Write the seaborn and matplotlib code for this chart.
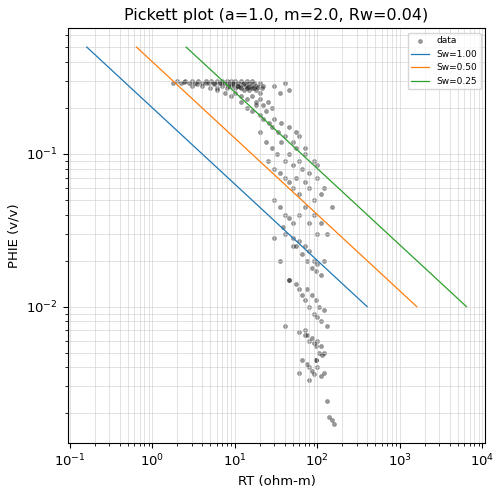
import numpy as np
import pandas as pd
import matplotlib
matplotlib.use("Agg")
import matplotlib.pyplot as plt
import seaborn as sns

# Pickett parameters
a, m, n, rw = 1.0, 2.0, 2.0, 0.04
sw_values = [1.00, 0.50, 0.25]
phi_ends = [0.01, 0.5]

# log data read approx. from the picture (RT ohm-m, PHIE v/v)
rt = [1.8, 2.0, 2.2, 2.5, 2.8, 3.0, 3.3, 3.6, 4.0, 4.4, 4.8, 5.2, 5.6, 6.0, 6.5, 7.0,
      7.5, 8.0, 8.5, 9.0, 9.5, 10, 11, 12, 13, 14, 15, 16, 17, 18, 20, 22,
      3.0, 4.0, 5.0, 6.0, 7.0, 8.0, 9.0, 10, 11, 12, 13, 14, 15, 16, 18, 20,
      2.4, 3.5, 4.5, 5.5, 6.8, 8.2, 9.6, 10.5, 11.5, 12.5, 13.5, 14.5, 15.5, 17, 19, 21,
      6.0, 7.5, 9.0, 10, 12, 14, 16, 18, 20, 22, 25, 28, 30, 35, 40, 45,
      12, 14, 16, 18, 20, 22, 24, 26, 28, 30, 33, 36, 40, 45, 50, 55, 60, 70,
      20, 24, 28, 32, 36, 40, 45, 50, 55, 60, 65, 70, 80, 90, 100,
      25, 30, 35, 40, 45, 50, 55, 60, 70, 80, 90, 100, 110, 120, 150,
      30, 35, 40, 45, 50, 60, 70, 80, 90, 100, 110, 130,
      40, 50, 55, 60, 65, 70, 75, 80, 85, 90, 95, 100, 110, 120,
      45, 55, 60, 65, 70, 75, 80, 85, 90, 95, 100, 105, 110, 120, 130,
      60, 70, 75, 80, 85, 90, 95, 100, 105, 110, 115, 120,
      65, 75, 80, 85, 90, 95, 100, 110, 120, 130, 140, 150, 160,
      40, 30, 35, 50, 60, 45, 38, 80, 70, 95]
phie = [0.29, 0.30, 0.29, 0.30, 0.29, 0.30, 0.29, 0.30, 0.29, 0.30, 0.29, 0.30, 0.29, 0.30, 0.29, 0.30,
        0.29, 0.30, 0.29, 0.30, 0.29, 0.30, 0.29, 0.30, 0.29, 0.30, 0.29, 0.30, 0.29, 0.28, 0.29, 0.28,
        0.28, 0.28, 0.27, 0.27, 0.28, 0.27, 0.28, 0.27, 0.28, 0.27, 0.26, 0.27, 0.26, 0.27, 0.26, 0.25,
        0.295, 0.285, 0.29, 0.285, 0.29, 0.28, 0.285, 0.28, 0.275, 0.285, 0.28, 0.275, 0.28, 0.27, 0.275, 0.27,
        0.26, 0.25, 0.24, 0.25, 0.24, 0.23, 0.24, 0.22, 0.23, 0.21, 0.22, 0.20, 0.28, 0.25, 0.29, 0.26,
        0.22, 0.20, 0.19, 0.21, 0.18, 0.17, 0.19, 0.16, 0.15, 0.17, 0.14, 0.16, 0.13, 0.15, 0.12, 0.14, 0.13, 0.11,
        0.14, 0.12, 0.11, 0.10, 0.12, 0.09, 0.10, 0.085, 0.11, 0.09, 0.08, 0.10, 0.075, 0.09, 0.085,
        0.09, 0.08, 0.075, 0.07, 0.065, 0.06, 0.07, 0.055, 0.065, 0.06, 0.05, 0.07, 0.055, 0.06, 0.045,
        0.05, 0.045, 0.04, 0.038, 0.035, 0.04, 0.045, 0.035, 0.04, 0.03, 0.035, 0.03,
        0.03, 0.028, 0.025, 0.027, 0.022, 0.025, 0.02, 0.023, 0.018, 0.02, 0.017, 0.019, 0.016, 0.02,
        0.015, 0.014, 0.013, 0.012, 0.011, 0.013, 0.01, 0.012, 0.009, 0.011, 0.0085, 0.01, 0.008, 0.0095, 0.0075,
        0.0068, 0.007, 0.0065, 0.006, 0.0062, 0.0058, 0.0055, 0.006, 0.005, 0.0055, 0.0048, 0.005,
        0.0045, 0.0042, 0.004, 0.0038, 0.0036, 0.0045, 0.004, 0.0035, 0.0037, 0.0024, 0.0019, 0.0018, 0.0017,
        0.0075, 0.028, 0.02, 0.025, 0.0037, 0.015, 0.033, 0.0033, 0.0065, 0.0045]

df = pd.DataFrame({"RT": rt, "PHIE": phie})

fig, ax = plt.subplots(figsize=(5.02, 4.95), dpi=100)
sns.scatterplot(data=df, x="RT", y="PHIE", ax=ax, s=9, color="black", alpha=0.4,
                edgecolor="black", linewidth=0.3, label="data")

for sw in sw_values:
    phi = np.array(phi_ends)
    rt_line = a * rw / (phi ** m * sw ** n)
    sns.lineplot(x=rt_line, y=phi, ax=ax, linewidth=0.9, label=f"Sw={sw:.2f}")

ax.set_xscale("log")
ax.set_yscale("log")
ax.grid(True, which="both", color="#cccccc", linewidth=0.5, alpha=0.8)
ax.set_xlabel("RT (ohm-m)", fontsize=9.5)
ax.set_ylabel("PHIE (v/v)", fontsize=9.5)
ax.set_title("Pickett plot (a=1.0, m=2.0, Rw=0.04)", fontsize=11.5)
ax.tick_params(labelsize=9.5)
ax.legend(loc="upper right", fontsize=6.5)
plt.subplots_adjust(left=0.135, right=0.967, top=0.943, bottom=0.105)
plt.savefig("out.png")
